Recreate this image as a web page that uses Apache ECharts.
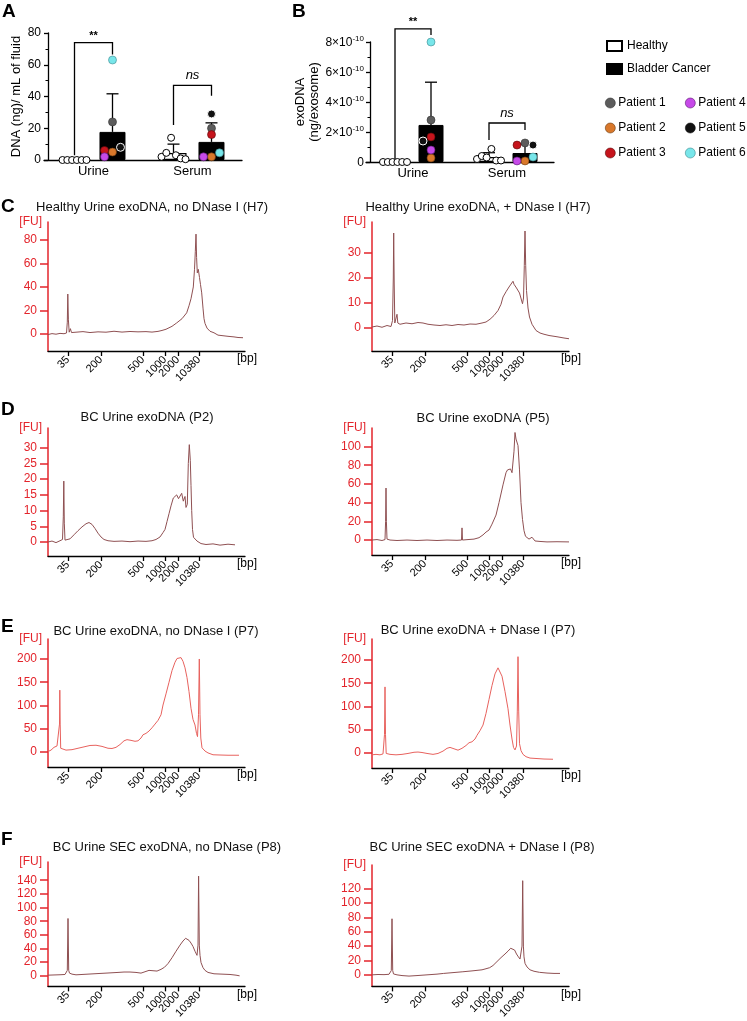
<!DOCTYPE html>
<html><head><meta charset="utf-8">
<script src="https://cdn.jsdelivr.net/npm/echarts@6/dist/echarts.min.js"></script>
<style>html,body{margin:0;padding:0;background:#fff}#c{width:747px;height:1021px}</style>
</head><body><div id="c"></div>
<script>
// ===================== DATA =====================
const groups = ['Urine', 'Serum'];
const patients = ['Patient 1','Patient 2','Patient 3','Patient 4','Patient 5','Patient 6'];

// Panel A: DNA (ng)/mL of fluid
const aHealthyUrine = [0,0,0,0,0,0];
const aHealthySerum = [2,4.5,14,3,1,0.5];
const aBCUrine = [24,5,6,2,8,63];      // Patient 1..6
const aBCSerum = [20,2,16,2,29,4.5];   // Patient 1..6
const aHealthyMean = [0,4.4];
const aHealthySD = [0,5.6];
const aBCMean = [17.7,11.4];
const aBCSD = [24,12];
const aYTicks = [0,20,40,60,80];
const aSig = ['**','ns'];
const aBrackets = [[74,3,66.5],[47,22,40.5]];   // [top, left leg end, right leg end]

// Panel B: exoDNA (ng/exosome)
const bHealthyUrine = [0,0,0,0,0,0];
const bHealthySerum = [0.2e-10,0.4e-10,0.3e-10,0.87e-10,0.1e-10,0.1e-10];
const bBCUrine = [2.8e-10,0.27e-10,1.67e-10,0.8e-10,1.4e-10,8.0e-10];
const bBCSerum = [1.27e-10,0.07e-10,1.13e-10,0.07e-10,1.13e-10,0.33e-10];
const bHealthyMean = [0,0.33e-10];
const bHealthySD = [0,0.29e-10];
const bBCMean = [2.47e-10,0.6e-10];
const bBCSD = [2.85e-10,0.6e-10];
const bYTicks = [0,2e-10,4e-10,6e-10,8e-10];
const bSig = ['**','ns'];
const bBrackets = [[8.87e-10,0.1e-10,8.47e-10],[2.6e-10,1.47e-10,2.13e-10]];

// Electropherograms: ladder (bp) and migration positions
const ladderBp = ['35','200','500','1000','2000','10380'];
const ladderPos = [20,53,95,117,130,151];

const traceC1 = [[0,-0.5],[4,0.3],[8,-0.2],[12,0.5],[16,0.2],[18.5,0.8],[19.3,10],[19.8,34],[20.4,12],[21.2,1.5],[22.4,4.5],[23.5,1.2],[28,1.5],[35,2],[42,1.2],[50,1.8],[58,1.5],[66,2.3],[74,1.6],[82,2.1],[90,1.8],[98,2],[104,1.6],[110,2.2],[114,3],[118,4],[124,6.5],[128.7,9.4],[134,13],[138.7,18],[141,24],[143,30],[145.3,40],[146.5,55],[147.3,70],[148,85],[148.6,65],[149.3,52],[150.3,55],[151.5,48],[152.5,42],[153.7,35],[155,22],[156,13],[157,9],[159,5],[162,2.3],[166,1],[170,-1],[175,-1.5],[180,-2],[186,-2.5],[190,-3],[195,-3.2]];
const traceC2 = [[0,0.4],[5,0.8],[10,0.3],[15,1],[19,0.6],[20.5,3],[21.3,20],[21.7,38],[22.2,18],[22.8,2],[24,2.5],[25,5.5],[25.8,2],[28,1.5],[34,2],[40,1.7],[46,2.2],[51,2],[56,1.5],[62,1.2],[68,1],[74,1.3],[80,1],[86,1.4],[92,1.2],[98,1.6],[104,1.5],[110,2],[114,2.4],[118,3.5],[122,5],[126,7],[129,9.5],[131,12.4],[134,14.5],[137,16.4],[139,17],[141,18.7],[142,17.5],[143,18.2],[144.5,16],[146,16.5],[147.5,14],[149,13.7],[150.5,9.7],[151.5,12],[152.3,25],[153,38.8],[153.7,25],[154.5,15],[156,8],[157.5,4.4],[160,1.5],[164,-1],[168,-2],[172,-2.5],[177,-3],[185,-3.5],[192,-4],[197,-4.3]];
const traceD1 = [[0,0],[4,0.3],[8,-0.2],[12,0.4],[14.5,0.8],[15.3,8],[15.8,19.4],[16.3,6],[17,0.6],[19,0.2],[22,1],[26,2.3],[30,3.6],[34,4.8],[38,5.8],[41,6.2],[44,5.6],[47,4.3],[50,2.8],[53,1.6],[56,0.8],[60,0.4],[66,0.2],[74,0.3],[82,0.1],[90,0.3],[98,0.2],[104,0.4],[108,0.8],[112,1.6],[115,3],[117,4],[119,6.5],[121,9],[123,11.5],[125.3,14],[127,13.5],[128.7,15],[130.5,13.8],[132,14],[133.7,15.5],[135.3,13],[137,14.5],[138,11],[139.3,12],[140.3,25],[141.3,31],[142.3,26],[143,18],[143.7,10],[144.5,4],[145.5,1.5],[147,1.2],[149,0.3],[151,0.8],[153,-0.5],[158,-0.8],[165,-0.6],[172,-1],[180,-0.7],[187,-0.9]];
const traceD2 = [[0,0],[5,0.5],[10,-0.5],[13,0.5],[13.6,20],[14,55.6],[14.4,20],[15,1],[18,0],[25,-0.5],[35,0],[45,-0.5],[55,0],[65,-0.5],[75,0],[85,-0.3],[89.5,0],[90,13],[90.5,0],[96,0.5],[102,1],[107,2.5],[111,5.5],[114,8.5],[117,10.7],[120,17],[124,26.7],[127,40],[131,59],[134,72],[135.5,75],[137,74],[138.5,76],[140,72],[141,70],[142,95],[143,115],[144,108],[146,101],[147.5,75],[149,40],[150.5,22],[152,10],[153.5,4],[155,6],[157,1],[160,3],[163,-1],[168,-1.5],[175,-2],[185,-1.8],[197,-2]];
const traceE1 = [[0,1],[3,4],[6,10],[9,13],[11,12],[11.5,60],[11.8,133],[12.2,60],[12.7,8],[14,5],[18,4],[24,5],[30,8],[36,11],[42,14],[48,14.5],[54,12],[60,8],[64,7.5],[68,10],[72,16],[76,24],[79,26.5],[83,25],[87,23],[90,24],[93,30],[95,37],[98,40],[101,45],[104,52],[107,60],[110,68],[113,80],[115,101],[118,125],[121,150],[124,175],[127,193],[129,201],[131,205],[133,203],[135,195],[137,181],[139,160],[141,130],[143,94],[145,70],[147,58],[148.5,40],[149.5,33],[150.5,80],[151.3,200],[152,80],[152.8,30],[154,9],[157,2],[160,-2],[165,-6],[172,-6.5],[180,-7],[191,-7]];
const traceE2 = [[0,-4],[4,-3],[8,-4],[11,-2],[12.5,40],[13,142],[13.5,40],[14.2,-1],[18,-3],[24,-4],[30,-3],[36,-1],[42,1.5],[46,2],[50,1],[55,-1],[61,-3],[66,-1],[71,4],[75,10],[78,12],[82,9],[86,6],[90,10],[94,16],[97,22],[100,24],[103,30],[105,38],[108,48],[111,60],[114,85],[117,115],[120,145],[123,170],[126,183],[128,180],[130,165],[133,132],[136,95],[138,60],[140,30],[141.5,12],[143,6.5],[144.5,15],[145.3,90],[146,207],[146.7,90],[147.5,20],[149,5],[151,-3],[154,-8],[158,-11],[165,-12],[172,-13],[181,-13.5]];
const traceF1 = [[0,1],[6,1.3],[12,1.6],[17,2],[19.3,8],[20,84],[20.7,8],[21.5,4],[24,2.5],[28,1.5],[34,2],[40,2.5],[46,3],[52,3.5],[58,4],[64,4.5],[70,5],[76,5.6],[82,5.6],[88,5],[93,4],[97,6],[101,8],[105,7.5],[109,7],[113,9.5],[116.5,12.6],[120,18],[124,26.5],[128,36],[132,45],[135,51],[137.6,55],[139,53],[141,52],[143,48],[145,43],[147,36],[149,30],[150,45],[150.6,146],[151.3,45],[152,30],[153,19.5],[155,12],[157,8],[160,5],[166,3],[174,2.5],[182,2],[188,1],[191.6,0]];
const traceF2 = [[0,0],[6,0.5],[12,0.3],[17,0.8],[19.3,6],[20,78],[20.7,6],[21.5,1.3],[25,0],[30,-1],[37,-1.7],[45,-1],[55,0],[65,1],[71.7,2],[80,3],[90.9,4.3],[100,5.5],[110,7],[114,8.5],[117.7,10],[121,13],[125,18.5],[129,24],[133,29],[136,33],[138.7,37],[140.5,35],[142.6,34.5],[144.5,29],[146.4,25],[148,22],[149,20],[150,40],[150.7,131],[151.4,40],[152,25],[153,16],[155,11],[158,7],[162,5],[167.5,3.5],[175,2.5],[182,2],[188,2]];

const fuTicksC1 = [0,20,40,60,80];
const fuTicksC2 = [0,10,20,30];
const fuTicksD1 = [0,5,10,15,20,25,30];
const fuTicksD2 = [0,20,40,60,80,100];
const fuTicksE1 = [0,50,100,150,200];
const fuTicksE2 = [0,50,100,150,200];
const fuTicksF1 = [0,20,40,60,80,100,120,140];
const fuTicksF2 = [0,20,40,60,80,100,120];

const titlesEP = ['Healthy Urine exoDNA, no DNase I (H7)','Healthy Urine exoDNA, + DNase I (H7)',
  'BC Urine exoDNA (P2)','BC Urine exoDNA (P5)',
  'BC Urine exoDNA, no DNase I (P7)','BC Urine exoDNA + DNase I (P7)',
  'BC Urine SEC exoDNA, no DNase (P8)','BC Urine SEC exoDNA + DNase I (P8)'];

// ===================== STYLE / LAYOUT =====================
const FONT = '"Liberation Sans", Arial, Helvetica, sans-serif';
const RED = '#e3242b';
const BROWN = '#8f5052';
const LIGHTRED = '#e8625e';
const patientColors = ['#5c5c5c','#d9782b','#c5141c','#c64ae8','#111111','#78e6ea'];
const patientBorders = ['#333','#6a3a10','#5a0a0a','#5a1a70','#ffffff','#3f8a8e'];

const epLayout = [
  {data:traceC1, ticks:fuTicksC1, color:BROWN,    rect:[48,222,197,129], y:[-14.5,95.3], title:[152,207]},
  {data:traceC2, ticks:fuTicksC2, color:BROWN,    rect:[372,222,197,129], y:[-9.2,42.4], title:[478,207]},
  {data:traceD1, ticks:fuTicksD1, color:BROWN,    rect:[48,428,197,128], y:[-4.46,36.3], title:[147,417]},
  {data:traceD2, ticks:fuTicksD2, color:BROWN,    rect:[372,428,197,127], y:[-16,119.8], title:[483,418]},
  {data:traceE1, ticks:fuTicksE1, color:LIGHTRED, rect:[48,639,197,128], y:[-32.3,243], title:[156,631]},
  {data:traceE2, ticks:fuTicksE2, color:LIGHTRED, rect:[372,639,197,129], y:[-32.3,245], title:[478,630]},
  {data:traceF1, ticks:fuTicksF1, color:BROWN,    rect:[48,862,197,130], y:[-15.4,166.7], title:[167,847]},
  {data:traceF2, ticks:fuTicksF2, color:BROWN,    rect:[372,865,197,130], y:[-16,152.8], title:[482,847]}
];

// simple beeswarm: spread points that would overlap
function swarm(vals, thr, step){
  const placed = [];
  return vals.map(v => {
    const cands = [0,-step,step,-2*step,2*step,-3*step,3*step];
    for (const c of cands){
      if (!placed.some(p => Math.abs(p.v - v) < thr && Math.abs(p.o - c) < step*0.9)){
        placed.push({v, o:c}); return c;
      }
    }
    return 0;
  });
}

const grids = [], xAxes = [], yAxes = [], series = [];

function barPanel(gi, cfg){
  grids.push({left:cfg.left, top:cfg.top, width:cfg.width, height:cfg.height});
  xAxes.push({gridIndex:gi, type:'category', data:groups,
    axisLine:{lineStyle:{color:'#000',width:1.3}}, axisTick:{show:false},
    axisLabel:{color:'#000',fontSize:13,margin:5}});
  yAxes.push(Object.assign({gridIndex:gi, type:'value', min:0, max:cfg.max, interval:cfg.interval, offset:-4,
    axisLine:{show:true,lineStyle:{color:'#000',width:1.3}},
    axisTick:{show:true,length:4,lineStyle:{color:'#000',width:1.3}},
    minorTick:{show:true,splitNumber:2,length:2.5,lineStyle:{color:'#000',width:1}},
    splitLine:{show:false},
    nameLocation:'middle', nameRotate:90, nameGap:cfg.nameGap,
    nameTextStyle:{color:'#000',fontSize:13,lineHeight:14}}, cfg.yExtra));
  const off = cfg.off;
  series.push({type:'bar', name:'Healthy', xAxisIndex:gi, yAxisIndex:gi, data:cfg.hMean,
    barWidth:cfg.barW, barGap:cfg.barGap, z:2,
    itemStyle:{color:'#fff',borderColor:'#000',borderWidth:1.2}});
  series.push({type:'bar', name:'Bladder Cancer', xAxisIndex:gi, yAxisIndex:gi, data:cfg.bMean,
    barWidth:cfg.barW, z:2, itemStyle:{color:'#000',borderColor:'#000',borderWidth:1}});
  // error bars
  const errData = [];
  groups.forEach((g,i)=>{ errData.push([i,cfg.hMean[i],cfg.hSD[i],-1]); errData.push([i,cfg.bMean[i],cfg.bSD[i],1]); });
  series.push({type:'custom', xAxisIndex:gi, yAxisIndex:gi, z:3, silent:true, clip:false, data:errData,
    renderItem:(p,api)=>{
      const sd = api.value(2); if (!(sd>0)) return null;
      const side = api.value(3);
      const p0 = api.coord([api.value(0), api.value(1)]);
      const p1 = api.coord([api.value(0), api.value(1)+sd]);
      const x = p0[0] + side*off;
      return {type:'group', children:[
        {type:'line', shape:{x1:x,y1:p0[1],x2:x,y2:p1[1]}, style:{stroke:'#000',lineWidth:1.3}},
        {type:'line', shape:{x1:x-6,y1:p1[1],x2:x+6,y2:p1[1]}, style:{stroke:'#000',lineWidth:1.3}}]};
    }});
  // brackets
  series.push({type:'custom', xAxisIndex:gi, yAxisIndex:gi, z:3, silent:true, clip:false,
    data:cfg.brackets.map((b,i)=>[i,b[0],b[1],b[2]]),
    renderItem:(p,api)=>{
      const gIdx = api.value(0);
      const c = api.coord([gIdx, api.value(1)]);
      const yl = api.coord([gIdx, api.value(2)])[1];
      const yr = api.coord([gIdx, api.value(3)])[1];
      const x1 = c[0]-off, x2 = c[0]+off, yt = c[1];
      const txt = cfg.sig[p.dataIndex];
      const isNs = txt === 'ns';
      return {type:'group', children:[
        {type:'polyline', shape:{points:[[x1,yl],[x1,yt],[x2,yt],[x2,yr]]}, style:{stroke:'#000',fill:null,lineWidth:1.3}},
        {type:'text', x:(x1+x2)/2, y:yt-(isNs?3:1), style:{text:txt, align:'center', verticalAlign:'bottom',
          font:(isNs?'italic 13px ':'bold 11px ')+FONT, fill:'#000'}}]};
    }});
  // healthy dots (row spread)
  const hd = [];
  [cfg.hUrine, cfg.hSerum].forEach((arr,gIdx)=>{
    arr.forEach((v,i)=>hd.push({value:[gIdx,v], symbolOffset:[-off + (i-(arr.length-1)/2)*4.8, 0]}));
  });
  series.push({type:'scatter', name:'healthyDots', xAxisIndex:gi, yAxisIndex:gi, z:4, data:hd, symbolSize:7,
    itemStyle:{color:'#fff',borderColor:'#000',borderWidth:1,opacity:1}});
  // patient dots
  const offU = swarm(cfg.bUrine, cfg.max*0.05, 8);
  const offS = swarm(cfg.bSerum, cfg.max*0.05, 8);
  patients.forEach((name,k)=>{
    series.push({type:'scatter', name, xAxisIndex:gi, yAxisIndex:gi, z:5, symbolSize:8,
      data:[{value:[0,cfg.bUrine[k]], symbolOffset:[off+offU[k],0]},
            {value:[1,cfg.bSerum[k]], symbolOffset:[off+offS[k],0]}],
      itemStyle:{color:patientColors[k], borderColor:patientBorders[k], borderWidth:k===4?1:0.6, opacity:1}});
  });
}

barPanel(0, {left:44, top:33, width:198, height:127, max:80, interval:20, off:19, barW:26, barGap:'46%', nameGap:23,
  hMean:aHealthyMean, hSD:aHealthySD, bMean:aBCMean, bSD:aBCSD, hUrine:aHealthyUrine, hSerum:aHealthySerum,
  bUrine:aBCUrine, bSerum:aBCSerum, brackets:aBrackets, sig:aSig,
  yExtra:{name:'DNA (ng)/ mL of fluid', axisLabel:{color:'#000',fontSize:12,margin:7}}});

barPanel(1, {left:366, top:42, width:188, height:120, max:8e-10, interval:2e-10, off:18, barW:25, barGap:'44%', nameGap:49,
  hMean:bHealthyMean, hSD:bHealthySD, bMean:bBCMean, bSD:bBCSD, hUrine:bHealthyUrine, hSerum:bHealthySerum,
  bUrine:bBCUrine, bSerum:bBCSerum, brackets:bBrackets, sig:bSig,
  yExtra:{name:'exoDNA\n(ng/exosome)', axisLabel:{color:'#000',margin:6,
    formatter:v=> v===0 ? '{m|0}' : '{m|'+Math.round(v/1e-10)+'×10}{s|-10}',
    rich:{m:{fontSize:12,color:'#000',fontFamily:FONT,lineHeight:14,verticalAlign:'bottom'},
          s:{fontSize:8,color:'#000',fontFamily:FONT,lineHeight:9,verticalAlign:'top'}}}}});

// electropherograms
epLayout.forEach((e,i)=>{
  const gi = i+2;
  grids.push({left:e.rect[0], top:e.rect[1], width:e.rect[2], height:e.rect[3]});
  xAxes.push({gridIndex:gi, type:'value', min:0, max:197,
    axisLine:{onZero:false, lineStyle:{color:'#000',width:1.3}},
    axisTick:{show:true, customValues:ladderPos, length:5, lineStyle:{color:'#000',width:1.3}},
    axisLabel:{customValues:ladderPos, rotate:45, fontSize:11, color:'#000', margin:7,
      formatter:v=>{const k=ladderPos.indexOf(v); return k>=0?ladderBp[k]:'';}},
    splitLine:{show:false},
    name:'[bp]', nameLocation:'end', nameGap:-8,
    nameTextStyle:{color:'#000',fontSize:12,align:'left',verticalAlign:'top',padding:[2,0,0,0]}});
  yAxes.push({gridIndex:gi, type:'value', min:e.y[0], max:e.y[1],
    axisLine:{show:true,onZero:false,lineStyle:{color:RED,width:1.5}},
    axisTick:{show:true, customValues:e.ticks, length:8, lineStyle:{color:RED,width:1.5}},
    axisLabel:{customValues:e.ticks, color:RED, fontSize:12, margin:11},
    splitLine:{show:false},
    name:'[FU]', nameLocation:'end', nameGap:0,
    nameTextStyle:{color:RED,fontSize:12,align:'right',verticalAlign:'middle',padding:[0,6,0,0]}});
  series.push({type:'line', xAxisIndex:gi, yAxisIndex:gi, data:e.data, showSymbol:false, symbol:'none',
    silent:true, clip:true, lineStyle:{color:e.color,width:1}});
});

// text graphics: panel letters and electropherogram titles
const letters = [['A',2,12],['B',292,12],['C',1,207],['D',1,410],['E',1,627],['F',1,840]];
const graphics = letters.map(l=>({type:'text', x:l[1], y:l[2],
  style:{text:l[0], font:'bold 19px '+FONT, fill:'#000', align:'left', verticalAlign:'middle'}}));
epLayout.forEach((e,i)=>graphics.push({type:'text', x:e.title[0], y:e.title[1],
  style:{text:titlesEP[i], font:'13px '+FONT, fill:'#111', align:'center', verticalAlign:'middle'}}));

const legendText = {fontSize:12,color:'#000',padding:[0,0,0,-2]};
const patientLegendItems = names => names.map(n => {
  const k = patients.indexOf(n);
  return {name:n, itemStyle:{color:patientColors[k], borderColor:k===4?patientColors[k]:patientBorders[k], borderWidth:0.6, opacity:1}};
});

const chart = echarts.init(document.getElementById('c'), null, {renderer:'canvas'});
chart.setOption({
  animation:false,
  backgroundColor:'#fff',
  textStyle:{fontFamily:FONT},
  grid:grids, xAxis:xAxes, yAxis:yAxes, series,
  graphic:graphics,
  legend:[
    {data:[{name:'Healthy',icon:'rect'},{name:'Bladder Cancer',icon:'rect'}], left:601, top:35, orient:'vertical',
      itemWidth:15, itemHeight:10, itemGap:11, selectedMode:false, textStyle:{fontSize:12,color:'#000'}},
    {data:patientLegendItems(['Patient 1','Patient 2','Patient 3']), left:600, top:92, orient:'vertical', icon:'circle',
      itemWidth:10, itemHeight:10, itemGap:13, selectedMode:false, textStyle:legendText},
    {data:patientLegendItems(['Patient 4','Patient 5','Patient 6']), left:680, top:92, orient:'vertical', icon:'circle',
      itemWidth:10, itemHeight:10, itemGap:13, selectedMode:false, textStyle:legendText}
  ]
});
</script></body></html>
